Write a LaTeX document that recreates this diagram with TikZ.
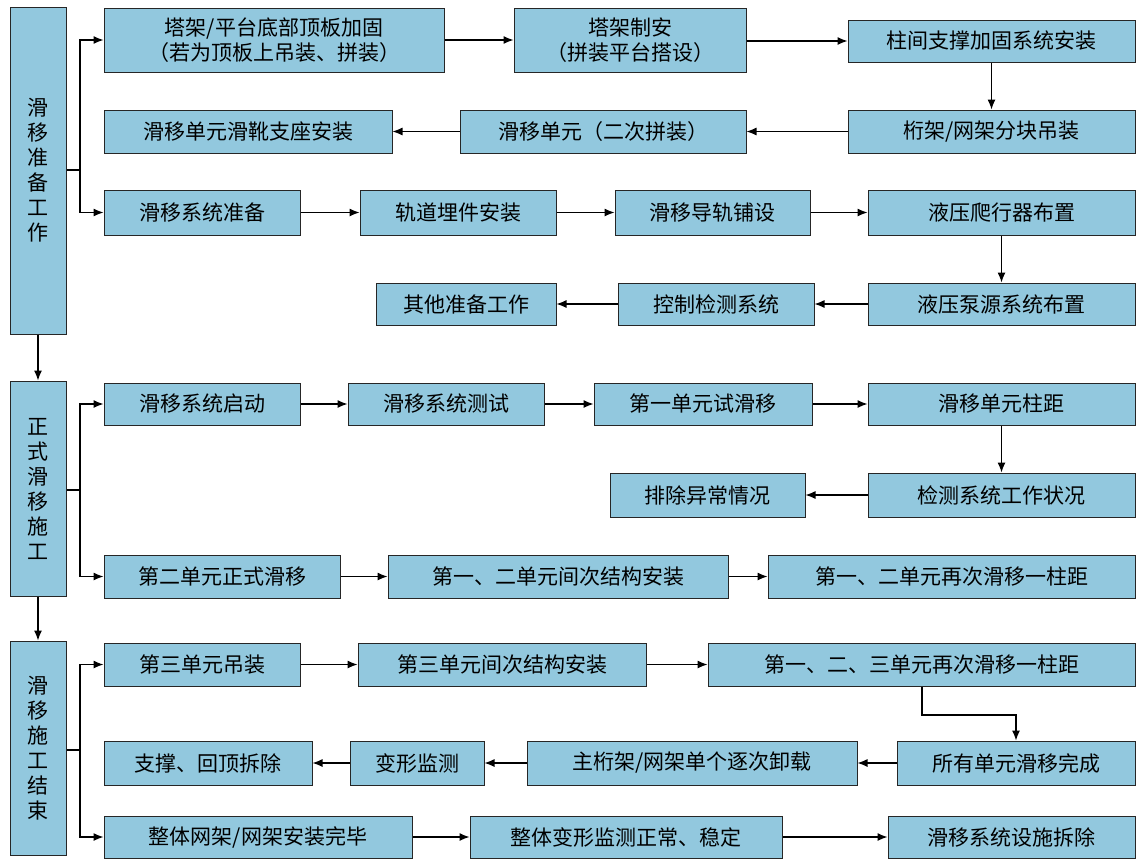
\documentclass[tikz,border=0pt]{standalone}
\usepackage{fontspec}
\setmainfont{Noto Sans CJK SC}
\usetikzlibrary{arrows.meta}
\definecolor{bx}{RGB}{146,200,222}
\begin{document}
\begin{tikzpicture}[x=1pt,y=-1pt,
 box/.style={draw=black!85,line width=1pt,fill=bx,inner sep=0pt,align=center,font=\fontsize{21}{25}\selectfont},
 ar/.style={-{Latex[length=10pt,width=8pt]},line width=1.2pt},
 ln/.style={line width=1.2pt}]
\useasboundingbox (0,0) rectangle (1145,865);
\newcommand{\B}[6]{\node[box,minimum width=#4-#2,minimum height=#5-#3] (#1) at ({(#2+#4)/2},{(#3+#5)/2}) {#6};}
\B{L1}{10}{7}{66}{334}{滑\\移\\准\\备\\工\\作}
\B{L2}{10}{381}{66}{596}{正\\式\\滑\\移\\施\\工}
\B{L3}{10}{641}{66}{855}{滑\\移\\施\\工\\结\\束}
\B{A1}{104}{8}{444}{72}{塔架/平台底部顶板加固\\（若为顶板上吊装、拼装）}
\B{A2}{514}{8}{746}{72}{塔架制安\\（拼装平台搭设）}
\B{A3}{848}{20}{1135}{62}{柱间支撑加固系统安装}
\B{B1}{104}{110}{392}{153}{滑移单元滑靴支座安装}
\B{B2}{460}{110}{746}{153}{滑移单元（二次拼装）}
\B{B3}{848}{110}{1135}{153}{桁架/网架分块吊装}
\B{C1}{104}{190}{300}{235}{滑移系统准备}
\B{C2}{360}{190}{556}{235}{轨道埋件安装}
\B{C3}{615}{190}{810}{235}{滑移导轨铺设}
\B{C4}{868}{190}{1135}{235}{液压爬行器布置}
\B{D1}{376}{283}{556}{325}{其他准备工作}
\B{D2}{618}{283}{814}{325}{控制检测系统}
\B{D3}{868}{283}{1135}{325}{液压泵源系统布置}
\B{E1}{104}{383}{300}{425}{滑移系统启动}
\B{E2}{348}{383}{544}{425}{滑移系统测试}
\B{E3}{594}{383}{812}{425}{第一单元试滑移}
\B{E4}{868}{383}{1135}{425}{滑移单元柱距}
\B{F1}{610}{473}{805}{517}{排除异常情况}
\B{F2}{868}{473}{1135}{517}{检测系统工作状况}
\B{G1}{104}{555}{340}{598}{第二单元正式滑移}
\B{G2}{388}{555}{728}{598}{第一、二单元间次结构安装}
\B{G3}{768}{555}{1135}{598}{第一、二单元再次滑移一柱距}
\B{H1}{104}{643}{300}{686}{第三单元吊装}
\B{H2}{358}{643}{646}{686}{第三单元间次结构安装}
\B{H3}{708}{643}{1135}{686}{第一、二、三单元再次滑移一柱距}
\B{I1}{104}{741}{312}{785}{支撑、回顶拆除}
\B{I2}{350}{741}{484}{785}{变形监测}
\B{I3}{527}{741}{857}{785}{主桁架/网架单个逐次卸载}
\B{I4}{897}{741}{1135}{785}{所有单元滑移完成}
\B{J1}{104}{816}{412}{858}{整体网架/网架安装完毕}
\B{J2}{470}{816}{782}{858}{整体变形监测正常、稳定}
\B{J3}{888}{816}{1135}{858}{滑移系统设施拆除}
% brackets
\coordinate (k1) at (80,170);
\draw[ln] (L1.east|-k1) -- (k1);
\draw[ar] (k1) |- (A1.west);
\draw[ar] (k1) |- (C1.west);
\coordinate (k2) at (80,490);
\draw[ln] (L2.east|-k2) -- (k2);
\draw[ar] (k2) |- (E1.west);
\draw[ar] (k2) |- (G1.west);
\coordinate (k3) at (80,750);
\draw[ln] (L3.east|-k3) -- (k3);
\draw[ar] (k3) |- (H1.west);
\draw[ar] (k3) |- (J1.west);
\draw[ar] (L1) -- (L2);
\draw[ar] (L2) -- (L3);
% flows
\draw[ar] (A1) -- (A2); \draw[ar] (A2.east|-A3) -- (A3);
\draw[ar] (A3) -- (B3); \draw[ar] (B3) -- (B2); \draw[ar] (B2) -- (B1);
\draw[ar] (C1) -- (C2); \draw[ar] (C2) -- (C3); \draw[ar] (C3) -- (C4);
\draw[ar] (C4) -- (D3); \draw[ar] (D3) -- (D2); \draw[ar] (D2) -- (D1);
\draw[ar] (E1) -- (E2); \draw[ar] (E2) -- (E3); \draw[ar] (E3) -- (E4);
\draw[ar] (E4) -- (F2); \draw[ar] (F2) -- (F1);
\draw[ar] (G1) -- (G2); \draw[ar] (G2) -- (G3);
\draw[ar] (H1) -- (H2); \draw[ar] (H2) -- (H3);
\coordinate (m) at (922,715);
\draw[ar] (m|-H3.south) -- (m) -| (I4.north);
\draw[ar] (I4) -- (I3); \draw[ar] (I3) -- (I2); \draw[ar] (I2) -- (I1);
\draw[ar] (J1) -- (J2); \draw[ar] (J2) -- (J3);
\end{tikzpicture}
\end{document}
